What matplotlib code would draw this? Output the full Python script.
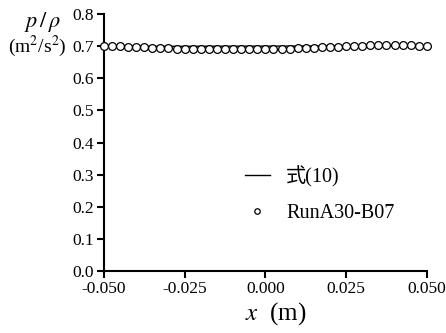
import numpy as np
import matplotlib.pyplot as plt

plt.rcParams['font.family'] = ['Liberation Serif', 'Noto Sans CJK SC']
plt.rcParams['mathtext.fontset'] = 'stix'

# data
x_run = np.linspace(-0.05, 0.05, 41)
p_run = [0.700, 0.699, 0.699, 0.698, 0.697, 0.696, 0.695, 0.694, 0.693, 0.692,
         0.691, 0.691, 0.690, 0.690, 0.690, 0.690, 0.690, 0.690, 0.690, 0.690,
         0.690, 0.691, 0.691, 0.692, 0.693, 0.694, 0.695, 0.696, 0.697, 0.698,
         0.699, 0.700, 0.701, 0.702, 0.702, 0.703, 0.703, 0.703, 0.702, 0.701,
         0.700]
x_eq = [-0.05, 0.05]
p_eq = [0.699, 0.701]

fig = plt.figure(figsize=(4.46, 3.33), dpi=100)
ax = fig.add_axes([0.233, 0.186, 0.724, 0.772])

ax.plot(x_eq, p_eq, color='black', lw=1.0, label='式(10)')
ax.plot(x_run, p_run, 'o', ms=5.6, mfc='white', mec='black', mew=0.9,
        label='RunA30-B07', clip_on=False, zorder=3)

ax.set_xlim(-0.05, 0.05)
ax.set_ylim(0.0, 0.8)
ax.set_xticks([-0.05, -0.025, 0.0, 0.025, 0.05])
ax.set_xticklabels(['-0.050', '-0.025', '0.000', '0.025', '0.050'])
ax.set_yticks(np.arange(0, 0.81, 0.1))
ax.set_yticklabels(['%.1f' % v for v in np.arange(0, 0.81, 0.1)])
ax.tick_params(direction='out', length=5, width=1.5, labelsize=12.5, pad=2)
for s in ['top', 'right']:
    ax.spines[s].set_visible(False)
for s in ['left', 'bottom']:
    ax.spines[s].set_linewidth(1.5)

ax.set_xlabel(r'$x$  (m)', fontsize=18)
ax.xaxis.set_label_coords(0.533, -0.165)
ax.xaxis.label.set_va('center')
fig.text(0.096, 0.934, r'$p\,/\,\rho$', fontsize=16, ha='center', va='center')
fig.text(0.083, 0.862, r'(m$^2$/s$^2$)', fontsize=14, ha='center', va='center')

ax.legend(loc='center left', bbox_to_anchor=(0.38, 0.298), frameon=False,
          fontsize=14.5, handlelength=1.25, labelspacing=0.85, handletextpad=0.8,
          markerscale=0.7)

fig.savefig('out.png', dpi=100)
